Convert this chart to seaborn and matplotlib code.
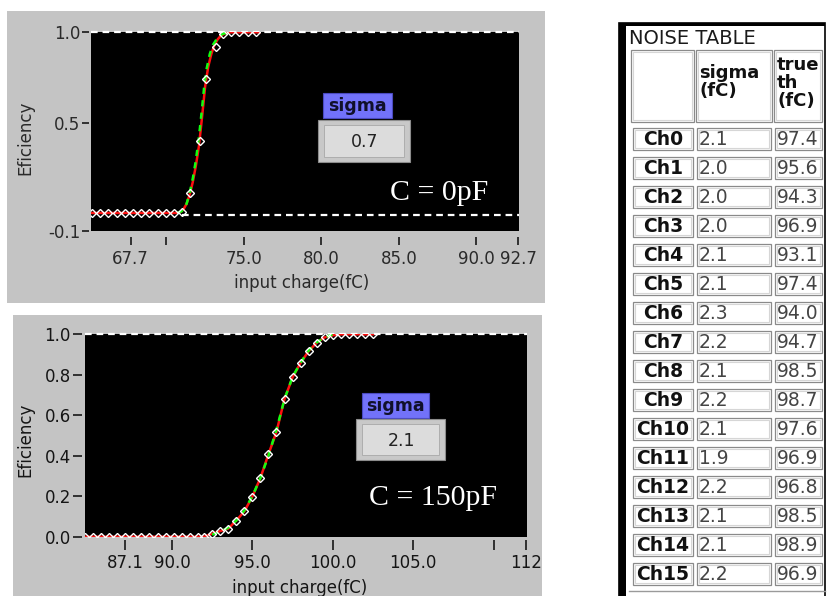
import matplotlib
matplotlib.use("Agg")
import matplotlib.pyplot as plt
import seaborn as sns
import pandas as pd
from matplotlib.patches import Rectangle

# ---------------- data ----------------
# top graph (C = 0pF): measured points
top_q = [65.2, 65.73, 66.26, 66.79, 67.32, 67.85, 68.38, 68.91, 69.44, 69.97, 70.5,
         71.03, 71.54, 72.17, 72.56, 73.17, 73.65, 74.18, 74.71, 75.24, 75.77]
top_eff = [0.0, 0.0, 0.0, 0.0, 0.0, 0.0, 0.0, 0.0, 0.0, 0.0, 0.0,
           0.005, 0.11, 0.40, 0.74, 0.92, 0.99, 1.0, 1.0, 1.0, 1.0]
# top graph: fitted curve (red) and second curve (green)
top_fit_q = [65.2, 70.6, 70.9, 71.1, 71.3, 71.5, 71.7, 71.9, 72.1, 72.3, 72.5,
             72.7, 72.9, 73.1, 73.3, 73.5, 73.7, 74.0, 76.0]
top_fit_eff = [0.0, 0.0, 0.005, 0.02, 0.05, 0.10, 0.17, 0.26, 0.37, 0.53, 0.70,
               0.81, 0.88, 0.93, 0.96, 0.98, 0.99, 1.0, 1.0]
top_green_q = [70.7, 71.0, 71.3, 71.5, 71.7, 71.9, 72.1, 72.3, 72.45, 72.6, 72.8,
               73.0, 73.3, 73.6, 74.0]
top_green_eff = [0.0, 0.01, 0.05, 0.11, 0.19, 0.29, 0.42, 0.58, 0.71, 0.80, 0.88,
                 0.93, 0.97, 0.99, 1.0]
top_sigma = "0.7"
top_label = "C = 0pF"
top_xticks = [67.7, 70.0, 75.0, 80.0, 85.0, 90.0, 92.7]
top_xticklabels = ["67.7", "", "75.0", "80.0", "85.0", "90.0", "92.7"]
top_yticks = [-0.1, 0.5, 1.0]
top_yticklabels = ["-0.1", "0.5", "1.0"]

# bottom graph (C = 150pF)
bot_q = [84.6, 85.1, 85.6, 86.1, 86.6, 87.1, 87.6, 88.1, 88.6, 89.1, 89.6, 90.1,
         90.6, 91.1, 91.6, 92.0, 92.5, 93.0, 93.5, 94.0, 94.5, 95.0, 95.5, 96.0,
         96.5, 97.0, 97.5, 98.0, 98.5, 99.0, 99.5, 100.0, 100.5, 101.0, 101.5,
         102.0, 102.5]
bot_eff = [0.0, 0.0, 0.0, 0.0, 0.0, 0.0, 0.0, 0.0, 0.0, 0.0, 0.0, 0.0,
           0.0, 0.0, 0.0, 0.0, 0.015, 0.028, 0.04, 0.08, 0.125, 0.198, 0.29, 0.407,
           0.518, 0.681, 0.787, 0.859, 0.917, 0.958, 0.985, 0.995, 1.0, 1.0, 1.0,
           1.0, 1.0]
bot_green_q = [92.5, 93.0, 93.5, 94.0, 94.5, 95.0, 95.5, 96.0, 96.5, 97.0, 97.5,
               98.0, 98.5, 99.0, 99.5, 100.0]
bot_green_eff = [0.01, 0.025, 0.045, 0.08, 0.13, 0.20, 0.29, 0.40, 0.53, 0.68,
                 0.79, 0.86, 0.92, 0.96, 0.985, 1.0]
bot_sigma = "2.1"
bot_label = "C = 150pF"
bot_xticks = [87.1, 90.0, 95.0, 100.0, 105.0, 110.0, 112.0]
bot_xticklabels = ["87.1", "90.0", "95.0", "100.0", "105.0", "", "112"]
bot_yticks = [0.0, 0.2, 0.4, 0.6, 0.8, 1.0]
bot_yticklabels = ["0.0", "0.2", "0.4", "0.6", "0.8", "1.0"]

# noise table
table_title = "NOISE TABLE"
channels = ["Ch0", "Ch1", "Ch2", "Ch3", "Ch4", "Ch5", "Ch6", "Ch7", "Ch8", "Ch9",
            "Ch10", "Ch11", "Ch12", "Ch13", "Ch14", "Ch15"]
sigma_fc = [2.1, 2.0, 2.0, 2.0, 2.1, 2.1, 2.3, 2.2, 2.1, 2.2, 2.1, 1.9, 2.2, 2.1, 2.1, 2.2]
true_th = [97.4, 95.6, 94.3, 96.9, 93.1, 97.4, 94.0, 94.7, 98.5, 98.7, 97.6, 96.9,
           96.8, 98.5, 98.9, 96.9]

# ---------------- figure ----------------
W, H = 838, 596
fig = plt.figure(figsize=(W / 100, H / 100), dpi=100)
fig.patch.set_facecolor("white")


def px_axes(x0, y0, x1, y1, **kw):
    return fig.add_axes([x0 / W, 1 - y1 / H, (x1 - x0) / W, (y1 - y0) / H], **kw)


bg = px_axes(0, 0, W, H, zorder=0)
bg.set_xlim(0, W)
bg.set_ylim(H, 0)
bg.axis("off")
bg.add_patch(Rectangle((7, 11), 538, 292, facecolor="#c4c4c4", edgecolor="none"))
bg.add_patch(Rectangle((13, 315), 529, 290, facecolor="#c4c4c4", edgecolor="none"))

ov = px_axes(0, 0, W, H, zorder=10)
ov.set_xlim(0, W)
ov.set_ylim(H, 0)
ov.axis("off")
ov.patch.set_alpha(0)


def draw_graph(ax, q, eff, fq, feff, gq, geff, xlim, ylim, xt, xtl, yt, ytl,
               xout, xlen, yout, ylen, lblcolor, msize):
    ax.set_facecolor("black")
    ax.set_xlim(*xlim)
    ax.set_ylim(*ylim)
    for s in ax.spines.values():
        s.set_visible(False)
    ax.spines["bottom"].set_position(("outward", xout))
    ax.spines["left"].set_position(("outward", yout))
    ax.set_xticks(xt, xtl)
    ax.set_yticks(yt, ytl)
    ax.tick_params(axis="x", length=xlen, width=1.4, color="#303030", pad=3.5,
                   labelsize=12, labelcolor=lblcolor)
    ax.tick_params(axis="y", length=ylen, width=1.4, color="#303030", pad=1.5,
                   labelsize=12, labelcolor=lblcolor)
    ax.set_xlabel("")
    ax.set_ylabel("")
    # white dashed reference at full efficiency
    ax.axhline(1.0, color="white", lw=1.6, ls=(0, (3, 2.2)), zorder=2, clip_on=False)
    d_fit = pd.DataFrame({"q": fq, "eff": feff})
    d_g = pd.DataFrame({"q": gq, "eff": geff})
    d_pts = pd.DataFrame({"q": q, "eff": eff})
    sns.lineplot(data=d_fit, x="q", y="eff", ax=ax, estimator=None, color="#ff1010",
                 lw=1.8, zorder=3)
    sns.lineplot(data=d_g, x="q", y="eff", ax=ax, estimator=None, color="#10ff10",
                 lw=1.8, dashes=False, zorder=4)
    ax.lines[-1].set_linestyle((0, (2.5, 2.5)))
    sns.lineplot(data=d_pts, x="q", y="eff", ax=ax, estimator=None, color="white",
                 lw=0, marker="D", markersize=msize, markerfacecolor="none",
                 markeredgecolor="white", markeredgewidth=1.0, zorder=5)
    ax.set_xlabel("")
    ax.set_ylabel("")


# top graph
ax1 = px_axes(91.2, 32.3, 518.6, 231, zorder=1)
draw_graph(ax1, top_q, top_eff, top_fit_q, top_fit_eff, top_green_q, top_green_eff,
           (65.15, 92.72), (-0.1, 1.0), top_xticks, top_xticklabels,
           top_yticks, top_yticklabels, 4.4, 6, 1.5, 5, "#2a2a2a", 4.0)
ax1.hlines(-0.012, 71.03, 92.72, colors="white", lw=1.6, ls=(0, (3, 2.2)), zorder=2)

# bottom graph
ax2 = px_axes(85, 334.3, 527.3, 536.7, zorder=1)
draw_graph(ax2, bot_q, bot_eff, bot_q, bot_eff, bot_green_q, bot_green_eff,
           (84.59, 112.1), (0.0, 1.0), bot_xticks, bot_xticklabels,
           bot_yticks, bot_yticklabels, 2.2, 7, 2.2, 6.5, "#151515", 4.5)

# axis titles
for (x, y, rot, t, c) in [(302, 283, 0, "input charge(fC)", "#2a2a2a"),
                          (25, 138, 90, "Eficiency", "#2a2a2a"),
                          (300, 588, 0, "input charge(fC)", "#151515"),
                          (25, 440, 90, "Eficiency", "#151515")]:
    ov.text(x, y, t, rotation=rot, ha="center", va="center", fontsize=12, color=c,
            family="DejaVu Sans")

# annotations C = ...
ov.text(390, 200, top_label, color="white", fontsize=21.5, family="Liberation Serif",
        ha="left", va="baseline")
ov.text(369, 505, bot_label, color="white", fontsize=21.5, family="Liberation Serif",
        ha="left", va="baseline")


def sigma_box(bx0, by0, bx1, by1, vx0, vy0, vx1, vy1, value):
    ov.add_patch(Rectangle((bx0, by0), bx1 - bx0, by1 - by0, facecolor="#7272fa",
                           edgecolor="#4a4ac0", lw=0.8))
    ov.text((bx0 + bx1) / 2, (by0 + by1) / 2 + 0.5, "sigma", ha="center", va="center",
            fontsize=12.5, fontweight="bold", color="#10102a", family="DejaVu Sans")
    ov.add_patch(Rectangle((vx0, vy0), vx1 - vx0, vy1 - vy0, facecolor="#c8c8c8",
                           edgecolor="#8c8c8c", lw=0.8))
    ov.add_patch(Rectangle((vx0 + 6, vy0 + 5), vx1 - vx0 - 12, vy1 - vy0 - 10,
                           facecolor="#dcdcdc", edgecolor="#a8a8a8", lw=0.6))
    ov.text((vx0 + vx1) / 2 + 1, (vy0 + vy1) / 2 + 1, value, ha="center", va="center",
            fontsize=12.5, color="#222222", family="DejaVu Sans")


sigma_box(323, 93, 392, 118, 318, 120, 410, 162, top_sigma)
sigma_box(362, 393, 429, 418, 356, 419, 445, 460, bot_sigma)

# ---------------- noise table ----------------
ov.add_patch(Rectangle((619, 23), 206, 590, facecolor="white", edgecolor="black", lw=1.2))
ov.add_patch(Rectangle((619, 23), 7, 590, facecolor="black", edgecolor="none"))
ov.add_patch(Rectangle((619, 23), 206, 3, facecolor="black", edgecolor="none"))
ov.plot([629, 825], [591, 591], color="#9a9a9a", lw=1.0)
ov.text(629, 39, table_title, ha="left", va="center", fontsize=14, color="#1a1a1a",
        family="DejaVu Sans")


def cell(x0, y0, x1, y1):
    ov.add_patch(Rectangle((x0, y0), x1 - x0, y1 - y0, fill=False,
                           edgecolor="#8a8a8a", lw=0.9))
    ov.add_patch(Rectangle((x0 + 1.6, y0 + 1.6), x1 - x0 - 3.2, y1 - y0 - 3.2,
                           fill=False, edgecolor="#d6d6d6", lw=0.8))


cols = [(631, 694), (696, 772), (774, 822)]
for c0, c1 in cols:
    cell(c0, 50, c1, 122)
ov.text(699, 73, "sigma", ha="left", va="center", fontsize=13, fontweight="bold",
        color="#111111", family="DejaVu Sans")
ov.text(699, 91, "(fC)", ha="left", va="center", fontsize=13, fontweight="bold",
        color="#111111", family="DejaVu Sans")
for yy, t in [(65, "true"), (83, "th"), (101, "(fC)")]:
    ov.text(777, yy, t, ha="left", va="center", fontsize=13, fontweight="bold",
            color="#111111", family="DejaVu Sans")

for i, ch in enumerate(channels):
    yc = 139 + 29.0 * i
    cell(633, yc - 11, 693, yc + 11)
    cell(697, yc - 11, 771, yc + 11)
    cell(775, yc - 11, 822, yc + 11)
    ov.text(663, yc + 0.5, ch, ha="center", va="center", fontsize=13.5,
            fontweight="bold", color="#111111", family="DejaVu Sans")
    ov.text(699, yc + 0.5, f"{sigma_fc[i]:.1f}", ha="left", va="center", fontsize=13.5,
            color="#444444", family="DejaVu Sans")
    ov.text(777, yc + 0.5, f"{true_th[i]:.1f}", ha="left", va="center", fontsize=13.5,
            color="#444444", family="DejaVu Sans")

fig.savefig("out.png", dpi=100, facecolor="white")
